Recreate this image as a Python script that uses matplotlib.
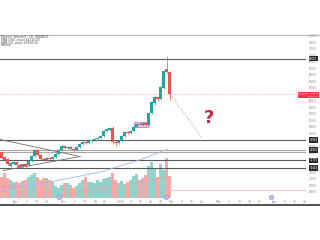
import numpy as np
import matplotlib
matplotlib.use("Agg")
import matplotlib.pyplot as plt
import matplotlib.transforms as mtrans
from matplotlib.lines import Line2D
from matplotlib.patches import Rectangle

# --- datos (velas diarias, precio) ---
opens = [40290, 38750, 38140, 35990, 36600, 37220, 36290, 35680, 36600, 36290,
         37520, 39060, 40910, 39370, 38140, 37830, 38450, 38140, 38750, 39680,
         40910, 42140, 41520, 41830, 41220, 40910, 41830, 42750, 43370, 43060,
         43680, 43980, 44290, 44600, 45220, 46760, 47060, 47680, 43370, 43060,
         43680, 45220, 46450, 46140, 46760, 47990, 48910, 48600, 49220, 48600,
         52290, 55370, 57220, 56600, 59990, 65830, 64910]
closes = [38450, 37830, 36600, 36910, 37220, 36290, 35680, 36600, 35990, 37520,
          39060, 40910, 39370, 38140, 37830, 38450, 38140, 38750, 39680, 40910,
          42140, 41520, 41830, 41220, 40910, 41830, 42750, 43370, 43060, 43680,
          43980, 44290, 44600, 45220, 46760, 47370, 47680, 43370, 43060, 43680,
          45220, 46450, 46140, 46760, 47990, 48910, 48600, 49220, 48600, 52290,
          55680, 57220, 56600, 60290, 65220, 64910, 58140]
highs = [40600, 39060, 38450, 37220, 37520, 37520, 36600, 36910, 36910, 37830,
         39370, 41220, 41220, 39680, 38450, 38750, 38750, 39060, 39980, 41220,
         42450, 42450, 42140, 42140, 41520, 42140, 43060, 43680, 43680, 43980,
         44290, 44600, 44910, 45520, 47060, 47680, 47990, 48290, 43680, 43980,
         45520, 46760, 46760, 47060, 48290, 49220, 49220, 49520, 49520, 52600,
         55990, 57830, 57520, 60600, 65520, 69830, 65220]
lows = [38140, 37520, 36290, 35680, 36290, 35990, 35370, 35370, 35680, 35990,
        37220, 38750, 39060, 37830, 37520, 37520, 37830, 37830, 38450, 39370,
        40600, 41220, 41220, 40910, 40600, 40600, 41520, 42450, 42750, 42750,
        43370, 43680, 43980, 44290, 44910, 46450, 46760, 42750, 42140, 42750,
        43370, 44910, 45830, 45830, 46450, 47680, 48290, 48290, 48290, 48290,
        51990, 54760, 56000, 56290, 59680, 64600, 56290]
volumen = [32, 38, 30, 27, 24, 24, 23, 26, 27, 32, 35, 38, 32, 27, 30, 30, 27, 24, 18, 15,
           20, 23, 23, 20, 15, 18, 23, 27, 32, 24, 24, 23, 27, 24, 29, 30, 32, 38, 27, 23,
           26, 21, 24, 27, 33, 36, 27, 30, 35, 48, 54, 45, 32, 51, 42, 60, 33]

# media móvil (precio) y media del volumen
ma_x = [-0.5, 6, 16, 33, 46, 55.5]
ma_y = [27990, 29520, 31060, 34140, 37830, 41210]
vma_x = [18.5, 29.5, 39.5, 49.5, 55.5]
vma_y = [3, 12, 18, 27, 33]

# niveles horizontales
niveles = [69000, 43980, 40900, 40380, 37700, 35400]
nivel_etiquetas = [69000, 43980, 40900, 37700, 35400]
precio_actual = 58140
linea_rosa = 28600

# triángulo, caja y proyección
tri_sup_x, tri_sup_y = [-0.5, 26.2], [44140, 38900]
tri_inf_x, tri_inf_y = [0.5, 26.2], [34600, 38900]
caja = (44.3, 47830, 4.5, 1690)
proy_x, proy_y = [56.2, 66.8], [58140, 44600]
eventos_x = [19.2, 54.8, 89.8]

fechas_pos = [4.83, 8.5, 11.83, 15.17, 20.83, 24.5, 27.83, 31.5, 34.5, 39.83, 43.17,
              46.5, 49.83, 53.17, 56.5, 60.17, 63.5, 66.83, 72.5, 75.83, 79.5, 82.83,
              86.17, 91.17, 94.5, 97.83, 101.0]
fechas_txt = ["Nov", "7", "13", "20", "Dec", "7", "13", "19", "25", "2024", "8", "15",
              "22", "29", "Feb", "8", "15", "22", "Mar", "7", "13", "19", "25", "Apr",
              "8", "15", "22"]

precios_eje = [28000, 30000, 32000, 34000, 40000, 42000, 46000, 48000, 50000, 52000,
               54000, 56000, 60000, 62000, 64000, 66000, 68000, 70000, 72000, 74000, 76000]

VERDE, ROJO = "#26a69a", "#ef5350"
VERDE_V, ROJO_V = "#92d2ca", "#f7a9a8"

fig = plt.figure(figsize=(3.2, 2.4), dpi=100)
pos = [0, 42 / 240, 306 / 320, 163 / 240]

# volumen (detrás)
axv = fig.add_axes(pos)
axv.set_zorder(0)
x = np.arange(len(opens))
col_v = [VERDE_V if c >= o else ROJO_V for o, c in zip(opens, closes)]
axv.bar(x, volumen, width=0.9, color=col_v, zorder=1)
axv.plot(vma_x, vma_y, color="#e8a0a0", lw=0.5, zorder=2)
axv.set_xlim(-0.5, 101.5)
axv.set_ylim(0, 244.5)
axv.axis("off")

# precio
ax = fig.add_axes(pos)
ax.set_zorder(1)
ax.patch.set_visible(False)
ax.set_xlim(-0.5, 101.5)
ax.set_ylim(26137, 76292)
for s in ax.spines.values():
    s.set_visible(False)

ax.axhline(precio_actual, color="#f5a0a0", lw=0.5, ls=(0, (1, 1)), zorder=1)
ax.hlines(linea_rosa, 56.8, 101.5, color="#f6c6d0", lw=0.8, zorder=1)
for n in niveles:
    c = "#a8a8a8" if n in (40900, 40380) else "#5a5a5a"
    ax.axhline(n, color=c, lw=0.8, zorder=2)

ax.plot(tri_sup_x, tri_sup_y, color="#6f6f6f", lw=0.6, zorder=2)
ax.plot(tri_inf_x, tri_inf_y, color="#6f6f6f", lw=0.6, zorder=2)
ax.plot(ma_x, ma_y, color="#9fb8f0", lw=0.6, zorder=2)

ax.add_patch(Rectangle((caja[0], caja[1]), caja[2], caja[3], fc="#e9c8f0",
                       ec="#c06cd0", lw=0.5, zorder=2))

col = [VERDE if c >= o else ROJO for o, c in zip(opens, closes)]
ax.vlines(x, lows, highs, color=col, lw=0.5, zorder=3)
cuerpo = [max(abs(c - o), 150) for o, c in zip(opens, closes)]
ax.bar(x, cuerpo, bottom=[min(o, c) for o, c in zip(opens, closes)], width=0.7,
       color=col, zorder=4)

ax.plot(proy_x, proy_y, color="#9a9a9a", lw=0.6, ls=(0, (1, 1.5)), zorder=3)
ax.text(69.2, 50600, "?", color="#c2284a", fontsize=13, fontweight="bold",
        ha="center", va="center", zorder=5)

ax.scatter(eventos_x, [26500] * len(eventos_x), s=10, color="#c9b8ee",
           edgecolor="#9c84dc", lw=0.4, zorder=6, clip_on=False)

# eje de precios a la derecha
ax.yaxis.tick_right()
ax.set_yticks(precios_eje)
ax.set_yticklabels([str(v) for v in precios_eje])
ax.tick_params(axis="y", length=0, pad=2.2, labelsize=1.9, labelcolor="#8a8a8a")
ax.set_xticks(fechas_pos)
ax.set_xticklabels(fechas_txt)
ax.tick_params(axis="x", length=0, pad=1.2, labelsize=2.2, labelcolor="#8a8a8a")

tr = mtrans.blended_transform_factory(ax.transAxes, ax.transData)
for n in nivel_etiquetas:
    ax.text(1.011, n, str(n), transform=tr, fontsize=1.9, color="white",
            ha="left", va="center", zorder=7, clip_on=False,
            bbox=dict(boxstyle="square,pad=0.3", fc="#2b2b2b", ec="none"))

# etiqueta del precio actual
fig.add_artist(Rectangle((298 / 320, 1 - 98 / 240), 21 / 320, 6.5 / 240,
                         transform=fig.transFigure, fc="#f23645", ec="none"))
fig.text(318.5 / 320, 1 - 93.4 / 240, "BTCUSDT  " + str(precio_actual), fontsize=1.7,
         color="white", ha="right", va="center")
fig.text(318.5 / 320, 1 - 96.2 / 240, "07:12:45", fontsize=1.7, color="white",
         ha="right", va="center")

# leyenda superior izquierda
leyenda = ["Bitcoin / TetherUS · 1D · BINANCE", "EMA (200, close) 41210.00",
           "EMA (50, close) 47820.00", "Volume"]
for k, t in enumerate(leyenda):
    fig.text(0.004, 1 - (37.5 + 2.5 * k) / 240, t, fontsize=2.1, color="#444444",
             va="center")
fig.text(0.006, 1 - 187.5 / 240, "Vol 33.41K", fontsize=2.1, color="#e88a8a",
         va="center")

# bordes
fig.add_artist(Line2D([0, 1], [1 - 35 / 240] * 2, color="#b5b5b5", lw=0.8))
fig.add_artist(Line2D([0, 1], [1 - 204.5 / 240] * 2, color="#333333", lw=1.2))

plt.savefig("out.png", dpi=100)
